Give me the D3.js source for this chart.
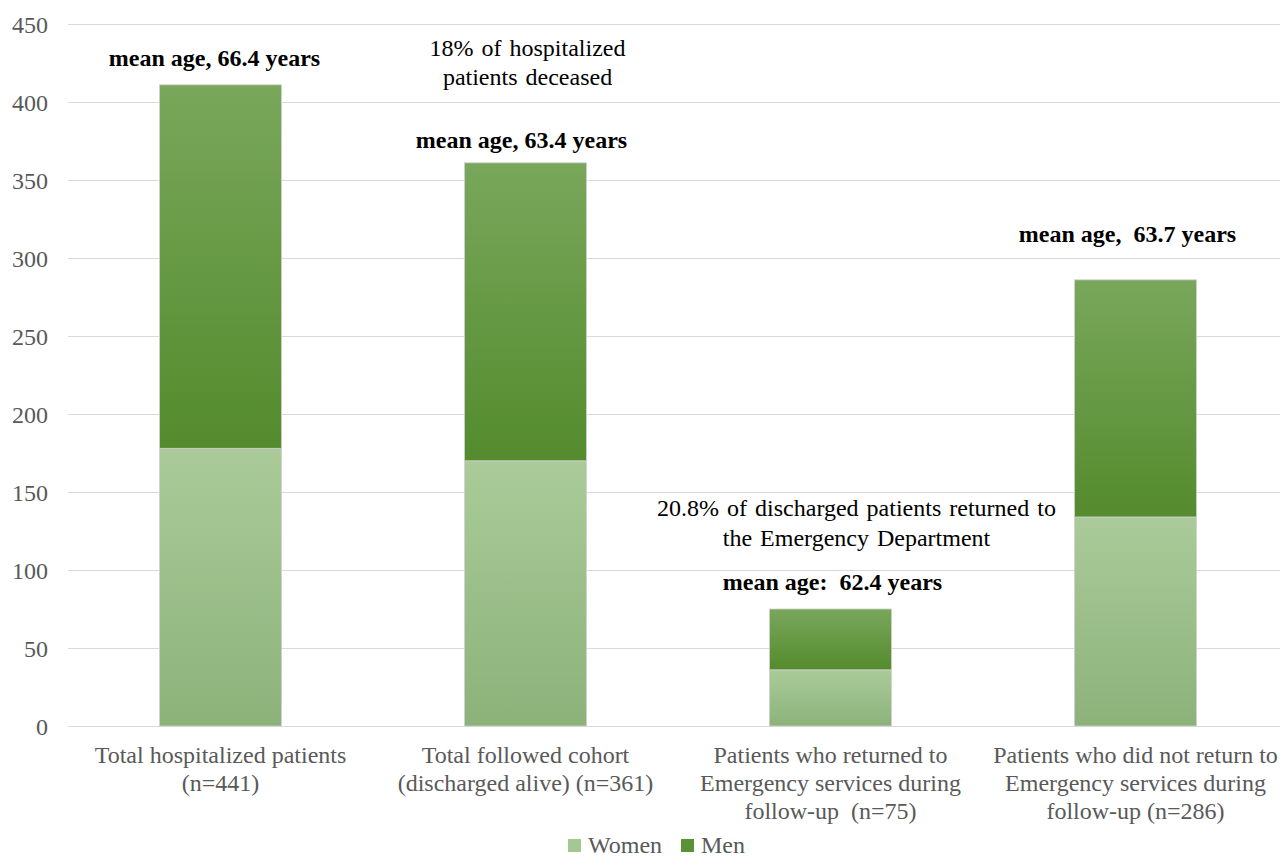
<!DOCTYPE html>
<html>
<head>
<meta charset="utf-8">
<script src="https://cdn.jsdelivr.net/npm/d3@7"></script>
<style>
  body { margin: 0; background: #fff; }
  svg { display: block; font-family: "Liberation Serif", "Times New Roman", serif; }
  text { white-space: pre; }
</style>
</head>
<body>
<svg id="chart" width="1280" height="856"></svg>
<script>
// data
var categories = [
  ["Total hospitalized patients", "(n=441)"],
  ["Total followed cohort", "(discharged alive) (n=361)"],
  ["Patients who returned to", "Emergency services during", "follow-up  (n=75)"],
  ["Patients who did not return to", "Emergency services during", "follow-up (n=286)"]
];
var women = [178, 170, 36, 134];
var men = [233, 191, 39, 152];
var yTicks = [0, 50, 100, 150, 200, 250, 300, 350, 400, 450];
var seriesNames = ["Women", "Men"];

// annotations: category index, value where the baseline sits, text lines
var meanAge = [
  {i: 0, v: 423, dx: -6, text: "mean age, 66.4 years"},
  {i: 1, v: 370.5, dx: -4, text: "mean age, 63.4 years"},
  {i: 2, v: 87, dx: 2, text: "mean age:  62.4 years"},
  {i: 3, v: 310, dx: -8, text: "mean age,  63.7 years"}
];
var notes = [
  {i: 1, v: 429.5, dx: 2, lines: ["18% of hospitalized", "patients deceased"]},
  {i: 2, v: 134.6, dx: 26, lines: ["20.8% of discharged patients returned to", "the Emergency Department"]}
];

var svg = d3.select("#chart");
var x = d3.scaleBand().domain(d3.range(categories.length)).range([68, 1288]);
var y = d3.scaleLinear().domain([0, 450]).range([726, 24]);
var barW = x.bandwidth() * 0.4;
var fs = "24px";

var defs = svg.append("defs");
function grad(id, top, bottom) {
  var g = defs.append("linearGradient").attr("id", id)
    .attr("x1", 0).attr("y1", 0).attr("x2", 0).attr("y2", 1);
  g.append("stop").attr("offset", "0%").attr("stop-color", top);
  g.append("stop").attr("offset", "100%").attr("stop-color", bottom);
}
grad("gMen", "#79a75b", "#548b2d");
grad("gWomen", "#aacb99", "#8cb27a");

// gridlines
svg.append("g").selectAll("line")
  .data(yTicks)
  .enter().append("line")
    .attr("x1", 68).attr("x2", 1280)
    .attr("y1", function(d) { return Math.round(y(d)) + 0.5; })
    .attr("y2", function(d) { return Math.round(y(d)) + 0.5; })
    .style("stroke", "#d9d9d9")
    .style("stroke-width", 1);

// y axis labels
var yAxis = d3.axisLeft(y).tickValues(yTicks).tickSize(0).tickPadding(0);
var ya = svg.append("g").attr("transform", "translate(48,0)").call(yAxis);
ya.select(".domain").remove();
ya.selectAll("text")
  .attr("dy", "0.34em")
  .style("font-family", "Liberation Serif, serif")
  .style("font-size", fs)
  .style("fill", "#595959");

// stacked bars
var stackData = women.map(function(w, i) { return {i: i, Women: w, Men: men[i]}; });
var stacked = d3.stack().keys(seriesNames)(stackData);
var fills = {Women: "url(#gWomen)", Men: "url(#gMen)"};

svg.append("g").selectAll("g")
  .data(stacked)
  .enter().append("g")
    .style("fill", function(d) { return fills[d.key]; })
  .selectAll("rect")
  .data(function(d) { return d; })
  .enter().append("rect")
    .attr("x", function(d) { return x(d.data.i) + (x.bandwidth() - barW) / 2; })
    .attr("y", function(d) { return y(d[1]); })
    .attr("width", barW)
    .attr("height", function(d) { return y(d[0]) - y(d[1]); })
    .style("stroke", "#d0d0d0")
    .style("stroke-width", 0.8);

// category labels
var cat = svg.append("g").selectAll("text")
  .data(categories)
  .enter().append("text")
    .attr("text-anchor", "middle")
    .attr("x", function(d, i) { return x(i) + x.bandwidth() / 2; })
    .attr("y", 763)
    .style("font-size", fs)
    .style("fill", "#595959");
cat.selectAll("tspan")
  .data(function(d) { return d; })
  .enter().append("tspan")
    .attr("x", function() { return d3.select(this.parentNode).attr("x"); })
    .attr("dy", function(d, j) { return j === 0 ? 0 : 28; })
    .text(function(d) { return d; });

// mean age annotations
svg.append("g").selectAll("text")
  .data(meanAge)
  .enter().append("text")
    .attr("text-anchor", "middle")
    .attr("x", function(d) { return x(d.i) + x.bandwidth() / 2 + d.dx; })
    .attr("y", function(d) { return y(d.v); })
    .style("font-size", fs)
    .style("font-weight", "bold")
    .style("fill", "#000")
    .text(function(d) { return d.text; });

// notes
var nt = svg.append("g").selectAll("text")
  .data(notes)
  .enter().append("text")
    .attr("text-anchor", "middle")
    .attr("x", function(d) { return x(d.i) + x.bandwidth() / 2 + d.dx; })
    .attr("y", function(d) { return y(d.v); })
    .style("font-size", fs)
    .style("word-spacing", "2px")
    .style("fill", "#000");
nt.selectAll("tspan")
  .data(function(d) { return d.lines; })
  .enter().append("tspan")
    .attr("x", function() { return d3.select(this.parentNode).attr("x"); })
    .attr("dy", function(d, j) { return j === 0 ? 0 : 29.5; })
    .text(function(d) { return d; });

// legend
var legend = svg.append("g").attr("transform", "translate(568,839)");
var lg = legend.selectAll("g")
  .data(seriesNames)
  .enter().append("g")
    .attr("transform", function(d, i) { return "translate(" + (i * 113) + ",0)"; });
lg.append("rect")
  .attr("width", 13).attr("height", 13)
  .style("fill", function(d) { return d === "Women" ? "#a5c893" : "#5a9236"; });
lg.append("text")
  .attr("x", 20).attr("y", 13.5)
  .style("font-size", fs)
  .style("fill", "#595959")
  .text(function(d) { return d; });
</script>
</body>
</html>
